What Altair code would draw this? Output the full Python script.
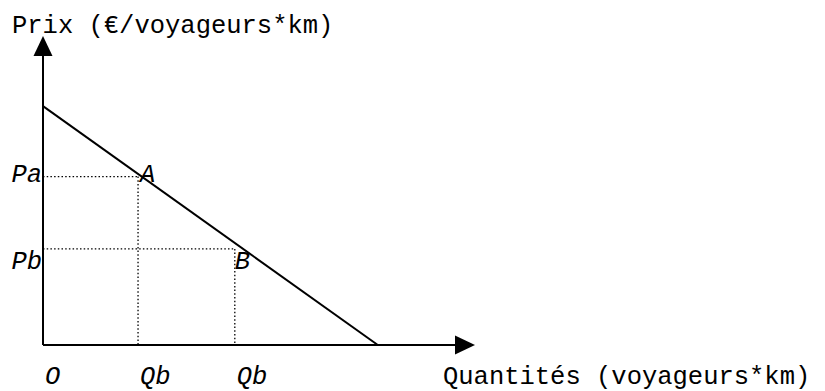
import altair as alt
import pandas as pd

# ---- data (schematic demand diagram) ----
q_axis_max = 100.0          # extent of quantity axis (arrow tip)
p_axis_max = 100.0          # extent of price axis (arrow tip)
demand_q = [0.0, 77.5]      # demand line: quantities
demand_p = [77.3, 0.0]      # demand line: prices
point_names = ["A", "B"]
point_q = [22.0, 44.4]      # Qa, Qb
point_p = [54.5, 31.1]      # Pa, Pb
price_labels = ["Pa", "Pb"]
qty_labels = ["O", "Qb", "Qb"]
qty_label_pos = [0.0, 22.0, 44.4]
y_title = "Prix (€/voyageurs*km)"
x_title = "Quantités (voyageurs*km)"

FONT = "Courier New, Courier, Nimbus Mono PS, FreeMono, Liberation Mono, monospace"
FS = 25.5

xs = alt.Scale(domain=[0, q_axis_max], nice=False, zero=False)
ys = alt.Scale(domain=[0, p_axis_max], nice=False, zero=False)
X = lambda f="q": alt.X(f"{f}:Q", scale=xs, axis=None)
Y = lambda f="p": alt.Y(f"{f}:Q", scale=ys, axis=None)

# axes as lines
yaxis_df = pd.DataFrame({"q": [0.0, 0.0], "p": [0.0, p_axis_max * 0.95]})
xaxis_df = pd.DataFrame({"q": [0.0, q_axis_max * 0.96], "p": [0.0, 0.0]})
yaxis = alt.Chart(yaxis_df).mark_line(color="black", strokeWidth=2).encode(x=X(), y=Y())
xaxis = alt.Chart(xaxis_df).mark_line(color="black", strokeWidth=2).encode(x=X(), y=Y())

up_arrow = alt.Chart(pd.DataFrame({"q": [0.0], "p": [p_axis_max]})).mark_point(
    shape="M0,0L-0.95,2L0.95,2Z", filled=True, color="black", opacity=1, size=400, strokeWidth=0
).encode(x=X(), y=Y())
right_arrow = alt.Chart(pd.DataFrame({"q": [q_axis_max], "p": [0.0]})).mark_point(
    shape="M0,0L-2,-0.95L-2,0.95Z", filled=True, color="black", opacity=1, size=400, strokeWidth=0
).encode(x=X(), y=Y())

demand = alt.Chart(pd.DataFrame({"q": demand_q, "p": demand_p})).mark_line(
    color="black", strokeWidth=2
).encode(x=X(), y=Y())

# dotted guides
guides = []
for i in range(len(point_q)):
    hdf = pd.DataFrame({"q": [0.0, point_q[i]], "p": [point_p[i], point_p[i]]})
    vdf = pd.DataFrame({"q": [point_q[i], point_q[i]], "p": [point_p[i], 0.0]})
    for d in (hdf, vdf):
        guides.append(
            alt.Chart(d).mark_line(color="black", strokeWidth=1.3, strokeDash=[1.5, 2.2]).encode(x=X(), y=Y())
        )

def label(text, q, p, align, dx, dy, italic=True):
    kw = dict(font=FONT, fontSize=FS, color="black", align=align, baseline="alphabetic", dx=dx, dy=dy)
    if italic:
        kw["fontStyle"] = "italic"
    return alt.Chart(pd.DataFrame({"q": [q], "p": [p], "t": [text]})).mark_text(**kw).encode(
        x=X(), y=Y(), text="t:N"
    )

labels = []
labels.append(label(price_labels[0], 0.0, point_p[0], "right", -1, 5.5))
labels.append(label(price_labels[1], 0.0, point_p[1], "right", -1, 20))
labels.append(label(point_names[0], point_q[0], point_p[0], "left", 2, 5.5))
labels.append(label(point_names[1], point_q[1], point_p[1], "left", 0, 20))
for t, q in zip(qty_labels, qty_label_pos):
    labels.append(label(t, q, 0.0, "left", 2, 39))
labels.append(label(y_title, 0.0, p_axis_max, "left", -31, -3, italic=False))
labels.append(label(x_title, q_axis_max, 0.0, "left", -32, 39, italic=False))

chart = alt.layer(
    *guides, demand, yaxis, xaxis, up_arrow, right_arrow, *labels
).properties(
    width=432,
    height=309,
    padding={"left": 35, "top": 28, "right": 340, "bottom": 46},
    autosize=alt.AutoSizeParams(type="none"),
    background="white",
).configure_view(strokeWidth=0)

chart.save("out.html", embed_options={"renderer": "svg", "actions": False})
